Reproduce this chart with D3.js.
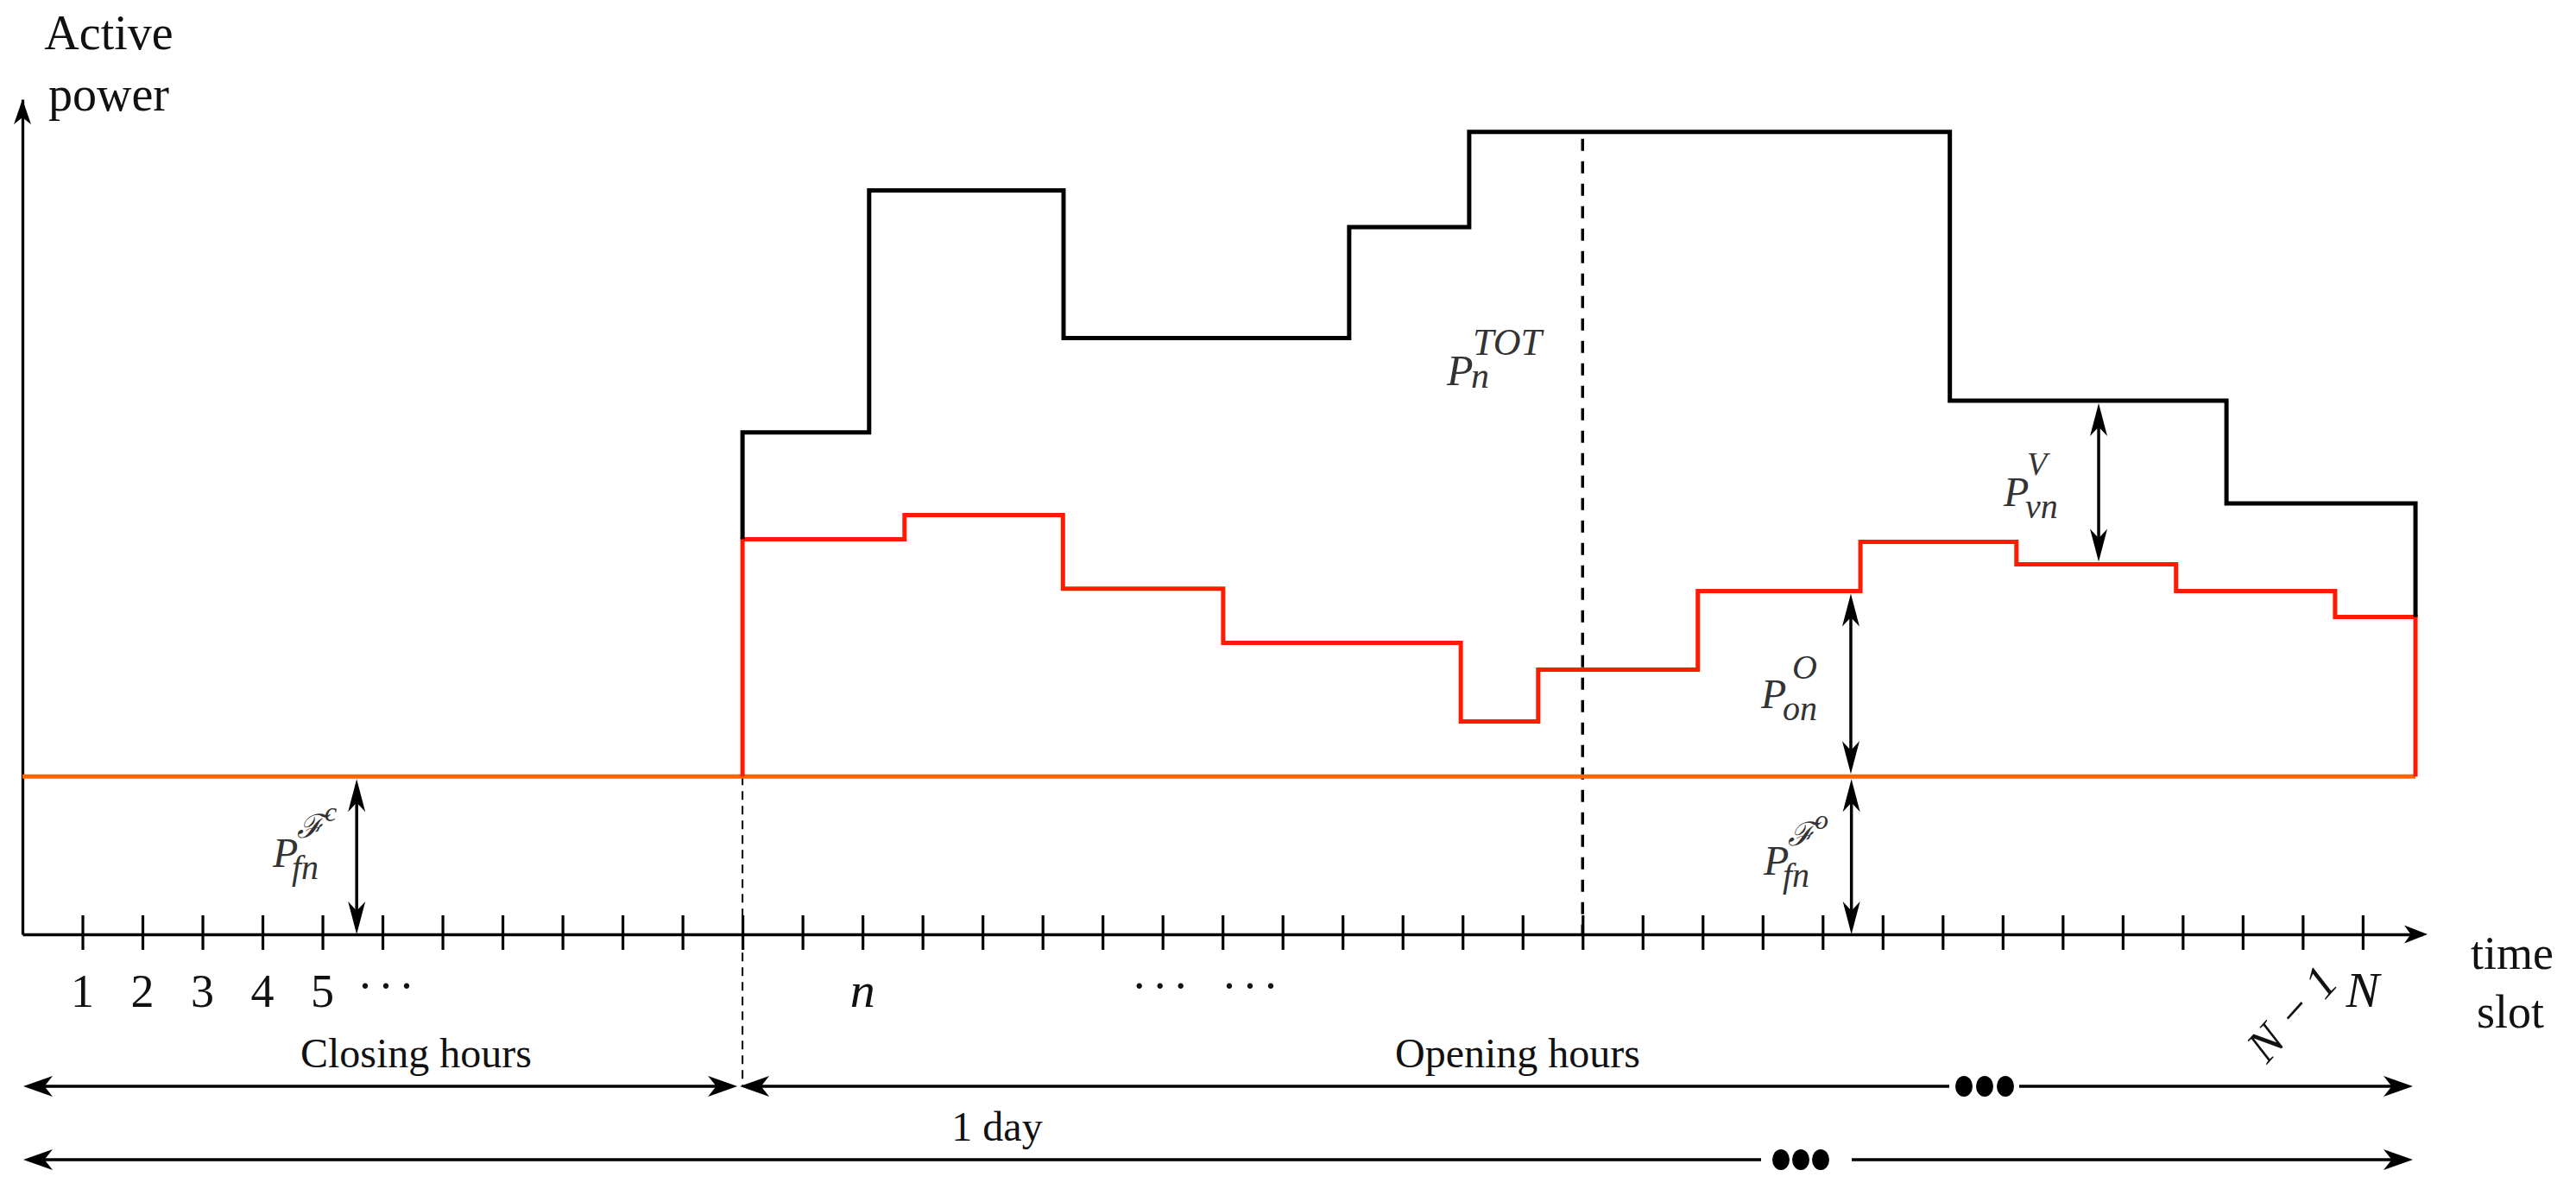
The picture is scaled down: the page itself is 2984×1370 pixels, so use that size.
<!DOCTYPE html>
<html>
<head>
<meta charset="utf-8">
<script src="https://cdn.jsdelivr.net/npm/d3@7"></script>
<style>
  html, body { margin: 0; padding: 0; background: #fff; }
  svg { display: block; }
  text { font-family: "Liberation Serif", "DejaVu Serif", serif; fill: #111; }
  .math { font-style: italic; fill: #333; }
</style>
</head>
<body>
<svg id="chart" width="2984" height="1370"></svg>
<script>
// ---------------- data ----------------
const slotTicks = d3.range(1, 40);                       // time slots 1..39
const tickLabelSlots = [1, 2, 3, 4, 5, 14, 39];
const tickLabelTexts = ["1", "2", "3", "4", "5", "n", "N"];
const tickLabelItalic = [false, false, false, false, false, true, true];
const rotatedLabelSlot = 37.82;
const rotatedLabelText = "N − 1";
const ellipsisSlots = [6.1, 19.0, 20.5];

const openStart = 12;        // start of opening hours (slot)
const dayEnd = 39.88;        // end of the day (slot)
const totSlot = 26;          // dashed marker of P_n^TOT

// total power P^TOT (black step line)
const totBreaks = [12, 14.11, 17.35, 22.11, 24.11, 32.12, 36.73, 39.88];
const totLevels = [6.01, 8.91, 7.14, 8.47, 9.61, 6.39, 5.16];

// opening-hours power P^O (red step line)
const opBreaks = [12, 14.70, 17.34, 20.01, 23.97, 25.26, 27.92, 30.63, 33.23, 35.89, 38.54, 39.88];
const opLevels = [4.73, 5.02, 4.14, 3.49, 2.55, 3.17, 4.11, 4.70, 4.43, 4.11, 3.80];

// fixed power P^F (orange line)
const fixedLevel = 1.89;

// annotation arrows (slot positions)
const arrowFcSlot = 5.57, arrowFoSlot = 30.48, arrowOnSlot = 30.47, arrowVnSlot = 34.6;

// ---------------- scales ----------------
const svg = d3.select("#chart");
const x = d3.scaleLinear().domain([0, 40]).range([26, 26 + 40 * 69.51]);
const y = d3.scaleLinear().domain([0, 10]).range([1082, 115]);

const levelAt = (breaks, levels, s) => {
  for (let i = 0; i < levels.length; i++) if (s >= breaks[i] && s < breaks[i + 1]) return levels[i];
  return levels[levels.length - 1];
};

// arrowhead (stealth) drawn at tip (tx,ty) pointing in direction angle (deg)
function head(g, tx, ty, angle, len, w) {
  g.append("path")
    .attr("d", `M0,0 L${-len},${-w / 2} L${-len * 0.72},0 L${-len},${w / 2} Z`)
    .attr("transform", `translate(${tx},${ty}) rotate(${angle})`)
    .attr("fill", "#000");
}
function hArrow(g, x1, x2, yy, sw, len, w, leftHead, rightHead) {
  g.append("line").attr("x1", x1 + (leftHead ? len * 0.6 : 0)).attr("x2", x2 - (rightHead ? len * 0.6 : 0))
    .attr("y1", yy).attr("y2", yy).attr("stroke", "#000").attr("stroke-width", sw);
  if (leftHead) head(g, x1, yy, 180, len, w);
  if (rightHead) head(g, x2, yy, 0, len, w);
}
function vDouble(g, xx, yTop, yBot) {
  const len = 38, w = 20;
  g.append("line").attr("x1", xx).attr("x2", xx).attr("y1", yTop + len * 0.6).attr("y2", yBot - len * 0.6)
    .attr("stroke", "#000").attr("stroke-width", 3.5);
  head(g, xx, yTop, -90, len, w);
  head(g, xx, yBot, 90, len, w);
}

// ---------------- axes ----------------
const axisG = svg.append("g");
const yAxis = axisG.append("g").attr("transform", `translate(${x(0)},0)`)
  .call(d3.axisLeft(y).tickValues([]).tickSizeOuter(0));
yAxis.select(".domain").attr("stroke", "#000").attr("stroke-width", 3.3);
head(axisG, x(0), y(10), -90, 29, 20);

const xAxis = axisG.append("g").attr("transform", `translate(0,${y(0)})`)
  .call(d3.axisBottom(x).tickValues(slotTicks).tickFormat("").tickSizeOuter(0));
xAxis.select(".domain").attr("stroke", "#000").attr("stroke-width", 3.3);
xAxis.selectAll(".tick line").attr("y1", -22).attr("y2", 18).attr("stroke", "#000").attr("stroke-width", 3.2);
head(axisG, 2812, y(0), 0, 27, 21);

// ---------------- dashed markers ----------------
svg.append("line").attr("x1", x(openStart)).attr("x2", x(openStart))
  .attr("y1", y(fixedLevel)).attr("y2", 1257)
  .attr("stroke", "#000").attr("stroke-width", 2).attr("stroke-dasharray", "10,7");
svg.append("line").attr("x1", x(totSlot)).attr("x2", x(totSlot))
  .attr("y1", y(levelAt(totBreaks, totLevels, totSlot)) + 8).attr("y2", y(0))
  .attr("stroke", "#000").attr("stroke-width", 3.5).attr("stroke-dasharray", "14,12");

// ---------------- step lines ----------------
const line = d3.line().x(d => x(d[0])).y(d => y(d[1]));
const stepPoints = (breaks, levels) => {
  const pts = [];
  levels.forEach((v, i) => { pts.push([breaks[i], v]); pts.push([breaks[i + 1], v]); });
  return pts;
};

// orange fixed line
svg.append("path").datum([[0, fixedLevel], [dayEnd, fixedLevel]])
  .attr("d", line).attr("fill", "none").attr("stroke", "#ff6600").attr("stroke-width", 5);

// red P^O
const redPts = [[openStart, fixedLevel], ...stepPoints(opBreaks, opLevels), [dayEnd, fixedLevel]];
svg.append("path").datum(redPts).attr("d", line).attr("fill", "none")
  .attr("stroke", "#ff1a00").attr("stroke-width", 5).attr("stroke-linejoin", "miter");

// black P^TOT
const blackPts = [[openStart, opLevels[0]], ...stepPoints(totBreaks, totLevels), [dayEnd, opLevels[opLevels.length - 1]]];
svg.append("path").datum(blackPts).attr("d", line).attr("fill", "none")
  .attr("stroke", "#000").attr("stroke-width", 5).attr("stroke-linejoin", "miter");

// ---------------- annotation arrows ----------------
const ann = svg.append("g");
vDouble(ann, x(arrowFcSlot), y(fixedLevel) + 3, y(0));
vDouble(ann, x(arrowFoSlot), y(fixedLevel) + 3, y(0));
vDouble(ann, x(arrowOnSlot), y(levelAt(opBreaks, opLevels, arrowOnSlot)) + 3, y(fixedLevel) - 3);
vDouble(ann, x(arrowVnSlot), y(levelAt(totBreaks, totLevels, arrowVnSlot)) + 3, y(levelAt(opBreaks, opLevels, arrowVnSlot)) - 3);

// math labels: one text element, sub/sup as positioned tspans
function mathLabel(px, py, base, sub, sup, o) {
  const t = svg.append("text").attr("class", "math").attr("x", px).attr("y", py).attr("font-size", o.fs);
  t.append("tspan").text(base);
  t.append("tspan").attr("x", px + o.supDx).attr("y", py - o.supDy).attr("font-size", o.supFs).text(sup);
  if (o.sup2) t.append("tspan").attr("x", px + o.sup2Dx).attr("y", py - o.sup2Dy).attr("font-size", o.sup2Fs).text(o.sup2);
  t.append("tspan").attr("x", px + o.subDx).attr("y", py + o.subDy).attr("font-size", o.subFs).text(sub);
  return t;
}
mathLabel(1676, 446, "P", "n", "TOT", {fs: 50, subDx: 28, subDy: 3, subFs: 42, supDx: 30, supDy: 35, supFs: 44});
mathLabel(2321, 586, "P", "vn", "V", {fs: 48, subDx: 25, subDy: 14, subFs: 40, supDx: 27, supDy: 36, supFs: 38});
mathLabel(2040, 820, "P", "on", "O", {fs: 48, subDx: 25, subDy: 14, subFs: 40, supDx: 36, supDy: 34, supFs: 40});
mathLabel(316, 1004, "P", "fn", "ℱ", {fs: 48, subDx: 22, subDy: 14, subFs: 40, supDx: 28, supDy: 34, supFs: 38,
  sup2: "c", sup2Dx: 60, sup2Dy: 53, sup2Fs: 32});
mathLabel(2043, 1013, "P", "fn", "ℱ", {fs: 48, subDx: 22, subDy: 14, subFs: 40, supDx: 28, supDy: 34, supFs: 38,
  sup2: "o", sup2Dx: 59, sup2Dy: 53, sup2Fs: 32});

// ---------------- axis titles ----------------
svg.append("text").attr("x", 126).attr("y", 57).attr("text-anchor", "middle").attr("font-size", 56).text("Active");
svg.append("text").attr("x", 126).attr("y", 128).attr("text-anchor", "middle").attr("font-size", 56).text("power");
svg.append("text").attr("x", 2910).attr("y", 1122).attr("text-anchor", "middle").attr("font-size", 54).text("time");
svg.append("text").attr("x", 2908).attr("y", 1190).attr("text-anchor", "middle").attr("font-size", 54).text("slot");

// ---------------- tick labels ----------------
tickLabelSlots.forEach((s, i) => {
  svg.append("text").attr("x", x(s)).attr("y", 1166).attr("text-anchor", "middle")
    .attr("font-size", tickLabelItalic[i] ? 58 : 54)
    .attr("font-style", tickLabelItalic[i] ? "italic" : "normal")
    .text(tickLabelTexts[i]);
});
ellipsisSlots.forEach(s => {
  svg.append("text").attr("x", x(s)).attr("y", 1160).attr("text-anchor", "middle")
    .attr("font-size", 54).attr("letter-spacing", 6).text("···");
});
svg.append("text").attr("transform", `translate(${x(rotatedLabelSlot)},1174) rotate(-48)`)
  .attr("text-anchor", "middle").attr("dominant-baseline", "central")
  .attr("font-size", 54).attr("font-style", "italic").text(rotatedLabelText);

// ---------------- period arrows ----------------
const per = svg.append("g");
const yOpen = 1258, yDay = 1343;
hArrow(per, x(0) + 1, x(openStart) - 6, yOpen, 3.5, 34, 24, true, true);
// opening hours with break dots
hArrow(per, x(openStart) - 3, 2258, yOpen, 3.5, 34, 24, true, false);
hArrow(per, 2339, 2795, yOpen, 3.5, 34, 24, false, true);
[2275, 2299, 2323].forEach(cx => per.append("ellipse").attr("cx", cx).attr("cy", yOpen).attr("rx", 10).attr("ry", 12).attr("fill", "#000"));
// 1 day
hArrow(per, x(0) + 1, 2040, yDay, 3.5, 34, 24, true, false);
hArrow(per, 2145, 2795, yDay, 3.5, 34, 24, false, true);
[2063, 2086, 2109].forEach(cx => per.append("ellipse").attr("cx", cx).attr("cy", yDay).attr("rx", 10).attr("ry", 12).attr("fill", "#000"));

svg.append("text").attr("x", 482).attr("y", 1236).attr("text-anchor", "middle").attr("font-size", 48).text("Closing hours");
svg.append("text").attr("x", 1758).attr("y", 1236).attr("text-anchor", "middle").attr("font-size", 48).text("Opening hours");
svg.append("text").attr("x", 1155).attr("y", 1321).attr("text-anchor", "middle").attr("font-size", 48).text("1 day");
</script>
</body>
</html>
